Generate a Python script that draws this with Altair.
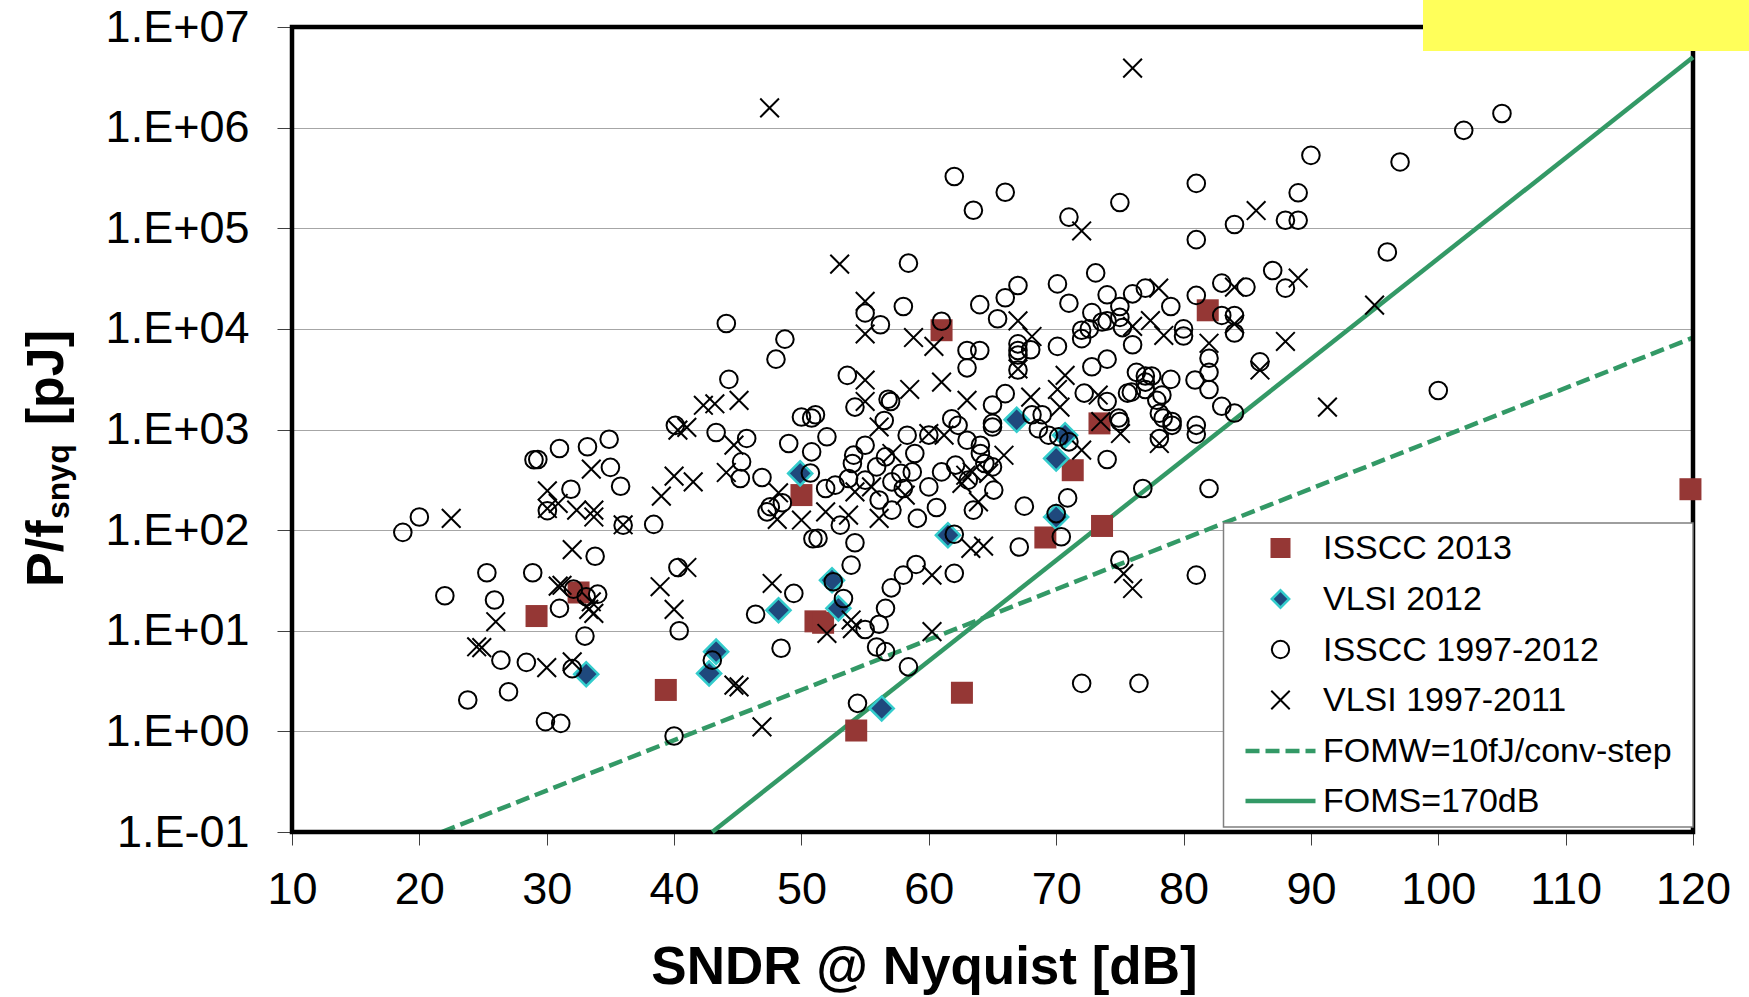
import altair as alt
import pandas as pd

# ---------------- data ----------------
x_ticks = [10, 20, 30, 40, 50, 60, 70, 80, 90, 100, 110, 120]
y_ticks = [0.1, 1, 10, 100, 1e3, 1e4, 1e5, 1e6, 1e7]
y_tick_labels = ["1.E-01", "1.E+00", "1.E+01", "1.E+02", "1.E+03",
                 "1.E+04", "1.E+05", "1.E+06", "1.E+07"]

# ISSCC 2013 (filled squares)
isscc13_x = [29.2, 32.5, 39.35, 50.0, 51.1, 51.7, 54.3, 61.0, 62.6, 69.15,
             71.3, 73.4, 73.6, 81.9, 119.8]
isscc13_y = [14, 24, 2.58, 223, 12.4, 12.0, 1.02, 9.7e3, 2.42, 84.5,
             394, 1.15e3, 110, 1.53e4, 255]

# VLSI 2012 (diamonds)
vlsi12_x = [49.9, 33.1, 48.2, 43.3, 42.75, 52.4, 52.9, 56.3, 61.5, 70.0,
            70.0, 70.7, 66.9]
vlsi12_y = [366, 3.7, 16, 6.2, 3.77, 31.8, 16.7, 1.69, 89, 135,
            515, 878, 1250]

# ISSCC 1997-2012 (open circles)
isscc_x = [44.1, 48.7, 48.0, 44.3, 50.0, 50.8,
           62.0, 63.5, 66.0, 71.0, 75.0, 81.0, 81.0, 84.0, 88.0, 89.0, 89.0, 90.0,
           58.4, 55.0, 56.2, 58.0, 61.0, 64.0, 66.0, 67.0, 65.4, 70.1, 71.0,
           63.0, 64.0, 63.0, 67.0, 67.0, 67.0, 68.0, 67.0, 70.1, 73.1, 74.0,
           72.8, 73.6, 74.0, 72.0, 72.6, 72.0, 75.0, 75.0, 75.2, 76.0, 77.0,
           79.0, 76.0, 80.0, 80.0, 81.0, 83.0, 84.9, 83.0, 84.0, 84.0, 82.0,
           82.0, 80.9, 82.0, 87.0, 88.0, 86.0, 83.0, 84.0, 53.6, 56.8, 57.0,
           54.2, 66.0, 65.0, 72.2, 74.0, 74.0, 72.8, 76.3, 77.0, 77.5, 77.0,
           77.0, 75.6, 75.9, 78.3, 77.9, 79.0, 51.1, 78.1, 78.4, 56.5, 61.8,
           65.0, 68.1, 68.9, 74.9, 79.1, 81.0,
           96.0, 102.0, 105.0, 97.0, 100.0,
           18.7, 20.0, 29.3, 29.0, 31.0, 33.2, 34.9, 35.0, 35.8, 31.9, 30.05,
           36.0, 38.4, 40.1, 43.3, 45.7, 45.3, 45.2, 46.9, 48.5, 47.55, 47.3,
           49.0, 50.7, 50.8, 50.9, 33.8, 25.3, 28.9, 22.0, 25.9, 32.1, 33.1,
           34.0, 31.0, 33.0, 26.4, 28.4, 32.0, 27.0, 23.8, 29.9, 31.1, 40.3,
           40.4, 40.0, 43.0, 49.4, 46.4, 48.4,
           52.0, 58.3, 60.0, 62.3, 63.0, 64.05, 64.05, 65.0, 64.4, 65.0, 63.1,
           62.1, 61.0, 58.7, 58.9, 56.6, 55.0, 54.1, 54.0, 55.9, 55.0, 53.7,
           52.65, 51.9, 57.1, 57.8, 58.0, 60.0, 56.1, 57.1, 59.1, 60.6, 63.5,
           65.1, 53.05, 51.3, 54.2, 67.5, 68.6, 69.4, 70.2, 71.0, 74.0, 75.0,
           78.1, 79.1, 81.0, 70.9, 70.0, 70.4, 76.8, 82.0, 62.0, 67.1, 52.5,
           53.9, 53.3, 55.0, 56.1, 56.6, 57.05, 58.0, 59.0, 62.0, 55.9, 56.6,
           58.4, 54.4, 72.0, 76.5, 75.0, 81.0]
isscc_y = [1.13e4, 7.9e3, 5.0e3, 3.15e3, 1.33e3, 1.3e3,
           3.27e5, 1.51e5, 2.28e5, 1.29e5, 1.8e5, 2.79e5, 7.7e4, 1.09e5, 1.2e5, 1.2e5, 2.25e5, 5.3e5,
           4.5e4, 1.44e4, 1.1e4, 1.67e4, 1.19e4, 1.74e4, 2.04e4, 2.7e4, 1.26e4, 2.8e4, 1.8e4,
           6.1e3, 6.1e3, 4.1e3, 7.1e3, 6.1e3, 5.5e3, 6.2e3, 3.9e3, 6.7e3, 3.6e4, 2.18e4,
           1.45e4, 1.17e4, 1.2e4, 9.7e3, 1.0e4, 8.0e3, 1.67e4, 1.3e4, 1.03e4, 2.23e4, 2.54e4,
           1.67e4, 6.95e3, 1.0e4, 8.5e3, 2.15e4, 2.85e4, 2.6e4, 1.36e4, 1.36e4, 9.1e3, 5.1e3,
           3.7e3, 3.1e3, 2.5e3, 3.8e4, 2.54e4, 4.7e3, 1.7e3, 1.46e3, 3.45e3, 2.0e3, 1.9e3,
           1.67e3, 2.27e3, 1.75e3, 2.3e3, 1.9e3, 5.0e3, 4.2e3, 3.7e3, 3.4e3, 3.4e3, 2.96e3,
           2.5e3, 2.3e3, 2.35e3, 2.2e3, 1.95e3, 3.15e3, 1.4e3, 1.45e3, 1.3e3, 1.23e3, 1.28e3,
           1.15e3, 1.4e3, 1.4e3, 1.3e3, 1.2e3, 1.1e3,
           5.8e4, 9.4e5, 1.38e6, 4.56e5, 2.44e3,
           95, 135, 503, 500, 647, 673, 801, 420, 273, 255, 156,
           112, 114, 1.1e3, 933, 815, 477, 326, 333, 187, 171, 152,
           726, 370, 600, 82, 55, 37.7, 37.7, 22.3, 20.2, 25.9, 21.8,
           23.1, 16.7, 8.85, 5.1, 4.85, 4.2, 2.48, 2.05, 1.25, 1.2, 42.5,
           10.0, 0.9, 5.1, 23.5, 14.6, 6.7,
           846, 878, 880, 1100, 783, 698, 578, 1060, 459, 425, 314,
           443, 379, 379, 578, 535, 698, 556, 459, 425, 314, 326,
           280, 259, 302, 366, 259, 269, 199, 158, 131, 168, 158,
           250, 112, 83, 75, 173, 1020, 878, 846, 754, 503, 1200,
           813, 1100, 899, 209, 146, 86, 259, 259, 91, 68, 30.7,
           44.9, 20.9, 10.3, 11.6, 16.7, 26.7, 35.7, 45.6, 37.2, 6.9, 6.2,
           4.38, 1.9, 3.0, 3.0, 50.3, 35.7]

# VLSI 1997-2011 (crosses)
vlsi_x = [47.5, 42.3, 43.2, 45.1,
          76.0, 72.0, 85.7, 53.0, 55.0, 55.0, 58.8, 60.4, 67.0, 68.1, 67.0, 76.0,
          78.05, 77.4, 78.45, 84.0, 84.0, 82.0, 89.0, 88.0, 86.0, 91.3, 55.0, 55.0,
          58.5, 61.0, 63.0, 68.0, 70.1, 70.7, 70.3, 73.3, 73.5,
          95.0,
          22.5, 33.5, 30.05, 30.9, 30.05, 32.35, 33.7, 33.7, 36.0, 39.0, 40.0,
          41.5, 40.3, 41.0, 44.7, 44.1, 48.2, 48.1, 50.0, 32.0, 30.9, 31.2, 33.5,
          33.3, 33.7, 26.0, 24.5, 24.9, 30.0, 32.0, 38.9, 41.0, 40.0, 44.7, 45.1,
          46.9, 47.7,
          56.1, 60.0, 61.2, 65.9, 64.7, 63.4, 62.9, 62.6, 57.1, 54.2, 55.5, 58.15,
          63.9, 51.9, 53.7, 56.1, 72.0, 75.05, 78.1, 63.3, 64.3, 53.9, 54.0, 52.0,
          60.25, 60.25, 75.3, 76.0]
vlsi_y = [1.57e6, 1.74e3, 1.8e3, 1.95e3,
          3.9e6, 9.4e4, 1.5e5, 4.4e4, 1.88e4, 8.9e3, 8.2e3, 6.7e3, 1.2e4, 8.4e3, 4.0e3, 1.06e4,
          2.54e4, 1.21e4, 8.6e3, 2.6e4, 1.12e4, 7.2e3, 3.2e4, 7.5e3, 3.9e3, 1.67e3, 3.1e3, 1.9e3,
          2.5e3, 2.96e3, 1.95e3, 2.1e3, 2.5e3, 3.45e3, 1.67e3, 2.2e3, 1.2e3,
          1.72e4,
          131, 404, 246, 184, 164, 158, 158, 135, 113, 218, 344,
          302, 985, 1050, 699, 374, 235, 128, 126, 64, 27.8, 28.3, 19.4,
          16.3, 14.9, 12.3, 6.93, 6.8, 4.3, 4.9, 27.4, 42.5, 16.3, 2.88, 2.77,
          1.11, 29.5,
          1060, 912, 880, 555, 366, 379, 351, 291, 578, 240, 269, 223,
          191, 152, 141, 131, 624, 912, 726, 65.8, 69.3, 12.8, 10.5, 9.4,
          35.7, 9.8, 37, 26.3]

# reference lines (end points)
foms_x = [43.0, 120.0]
foms_y = [0.1, 5.0e6]
fomw_x = [21.76, 120.0]
fomw_y = [0.1, 8170.0]

legend_labels = ["ISSCC 2013", "VLSI 2012", "ISSCC 1997-2012",
                 "VLSI 1997-2011", "FOMW=10fJ/conv-step", "FOMS=170dB"]

# ---------------- styling ----------------
FONT = "Liberation Sans"
GREEN = "#339966"
RED = "#953735"
NAVY = "#1f497d"
CYAN = "#33cccc"
W, H = 1401, 805
CROSS = "M-1,-1L1,1M-1,1L1,-1"
DASH = [14, 6]

xs = alt.Scale(domain=[10, 120], nice=False, zero=False)
ys = alt.Scale(type="log", domain=[0.1, 1e7], nice=False)

label_expr = "[" + ",".join("'%s'" % s for s in y_tick_labels) + "][round(log(datum.value)/LN10)+1]"

x_axis = alt.Axis(values=x_ticks, grid=False, domain=False, tickSize=13,
                  tickColor="#404040", tickWidth=1, labelFont=FONT, labelFontSize=45,
                  labelColor="black", labelPadding=22, labelFlush=False,
                  labelOverlap=False,
                  title="SNDR @ Nyquist [dB]", titleFont=FONT, titleFontSize=53,
                  titleFontWeight="bold", titleColor="black", titleX=632, titleY=151,
                  titleBaseline="alphabetic")
y_axis = alt.Axis(values=y_ticks, labelExpr=label_expr, grid=True, gridColor="#a6a6a6",
                  gridWidth=1, domain=False, tickSize=15, tickColor="#404040",
                  tickWidth=1, labelFont=FONT, labelFontSize=45, labelColor="black",
                  labelPadding=28, labelFlush=False, labelOverlap=False, title="")

def df(xv, yv):
    return pd.DataFrame({"x": xv, "y": yv})

def enc(ch):
    return ch.encode(x=alt.X("x:Q", scale=xs, axis=x_axis),
                     y=alt.Y("y:Q", scale=ys, axis=y_axis))

one = alt.Data(values=[{}])

border = alt.Chart(one).mark_rect(fillOpacity=0, stroke="black", strokeWidth=4.5).encode(
    x=alt.value(0), x2=alt.value(W), y=alt.value(0), y2=alt.value(H))

fomw = enc(alt.Chart(df(fomw_x, fomw_y)).mark_line(color=GREEN, strokeWidth=4.5,
                                                   strokeDash=DASH))
foms = enc(alt.Chart(df(foms_x, foms_y)).mark_line(color=GREEN, strokeWidth=4.5))

squares = enc(alt.Chart(df(isscc13_x, isscc13_y)).mark_point(
    shape="square", filled=True, color=RED, size=484, opacity=1))
diamonds = enc(alt.Chart(df(vlsi12_x, vlsi12_y)).mark_point(
    shape="diamond", filled=True, fill=NAVY, stroke=CYAN, strokeWidth=2.5,
    size=580, opacity=1))
circles = enc(alt.Chart(df(isscc_x, isscc_y)).mark_point(
    shape="circle", filled=False, color="black", strokeWidth=2, size=310, opacity=1))
crosses = enc(alt.Chart(df(vlsi_x, vlsi_y)).mark_point(
    shape=CROSS, filled=False, color="black", strokeWidth=2, size=350, opacity=1))

# legend (drawn inside the plot, bottom right)
LX0, LX1, LY0, LY1 = 931.5, 1401, 496, 800
SYM_X, TXT_X = 988.5, 1031
ROWS = [521, 572, 622.5, 673, 724, 774]
legend_box = alt.Chart(one).mark_rect(fill="white", stroke="#7f7f7f", strokeWidth=1.5).encode(
    x=alt.value(LX0), x2=alt.value(LX1), y=alt.value(LY0), y2=alt.value(LY1))

leg_layers = [legend_box]
leg_layers.append(alt.Chart(one).mark_point(shape="square", filled=True, color=RED,
                                            size=400, opacity=1).encode(
    x=alt.value(SYM_X), y=alt.value(ROWS[0])))
leg_layers.append(alt.Chart(one).mark_point(shape="diamond", filled=True, fill=NAVY,
                                            stroke=CYAN, strokeWidth=2.5, size=300,
                                            opacity=1).encode(
    x=alt.value(SYM_X), y=alt.value(ROWS[1])))
leg_layers.append(alt.Chart(one).mark_point(shape="circle", filled=False, color="black",
                                            strokeWidth=2, size=300, opacity=1).encode(
    x=alt.value(SYM_X), y=alt.value(ROWS[2])))
leg_layers.append(alt.Chart(one).mark_point(shape=CROSS, filled=False, color="black",
                                            strokeWidth=2, size=340, opacity=1).encode(
    x=alt.value(SYM_X), y=alt.value(ROWS[3])))
leg_layers.append(alt.Chart(one).mark_rule(color=GREEN, strokeWidth=4.5, strokeDash=DASH).encode(
    x=alt.value(953.5), x2=alt.value(1023.5), y=alt.value(ROWS[4])))
leg_layers.append(alt.Chart(one).mark_rule(color=GREEN, strokeWidth=4.5).encode(
    x=alt.value(953.5), x2=alt.value(1023.5), y=alt.value(ROWS[5])))
for lab, ry in zip(legend_labels, ROWS):
    leg_layers.append(alt.Chart(one).mark_text(
        text=lab, font=FONT, fontSize=34, color="black", align="left",
        baseline="alphabetic").encode(x=alt.value(TXT_X), y=alt.value(ry + 11)))

# yellow block at the top right
yellow = alt.Chart(one).mark_rect(fill="#ffff5a").encode(
    x=alt.value(1131), x2=alt.value(1457), y=alt.value(-27), y2=alt.value(24))

# y axis title with subscript
yt1 = alt.Chart(one).mark_text(text="P/f", font=FONT, fontSize=52, fontWeight="bold",
                               angle=270, align="left", baseline="alphabetic",
                               color="black").encode(x=alt.value(-229), y=alt.value(560))
yt2 = alt.Chart(one).mark_text(text="snyq", font=FONT, fontSize=32, fontWeight="bold",
                               angle=270, align="left", baseline="alphabetic",
                               color="black").encode(x=alt.value(-223), y=alt.value(492))
yt3 = alt.Chart(one).mark_text(text="[pJ]", font=FONT, fontSize=52, fontWeight="bold",
                               angle=270, align="right", baseline="alphabetic",
                               color="black").encode(x=alt.value(-229), y=alt.value(303))

chart = alt.layer(
    fomw, border, foms, squares, diamonds, circles, crosses,
    *leg_layers, yellow, yt1, yt2, yt3
).properties(
    width=W, height=H,
    padding={"left": 292, "top": 27, "right": 1749 - 292 - W, "bottom": 997 - 27 - H},
    autosize=alt.AutoSizeParams(type="none"),
    background="white",
).configure_view(strokeWidth=0)

chart.save("out.html", embed_options={"renderer": "svg", "actions": False})
